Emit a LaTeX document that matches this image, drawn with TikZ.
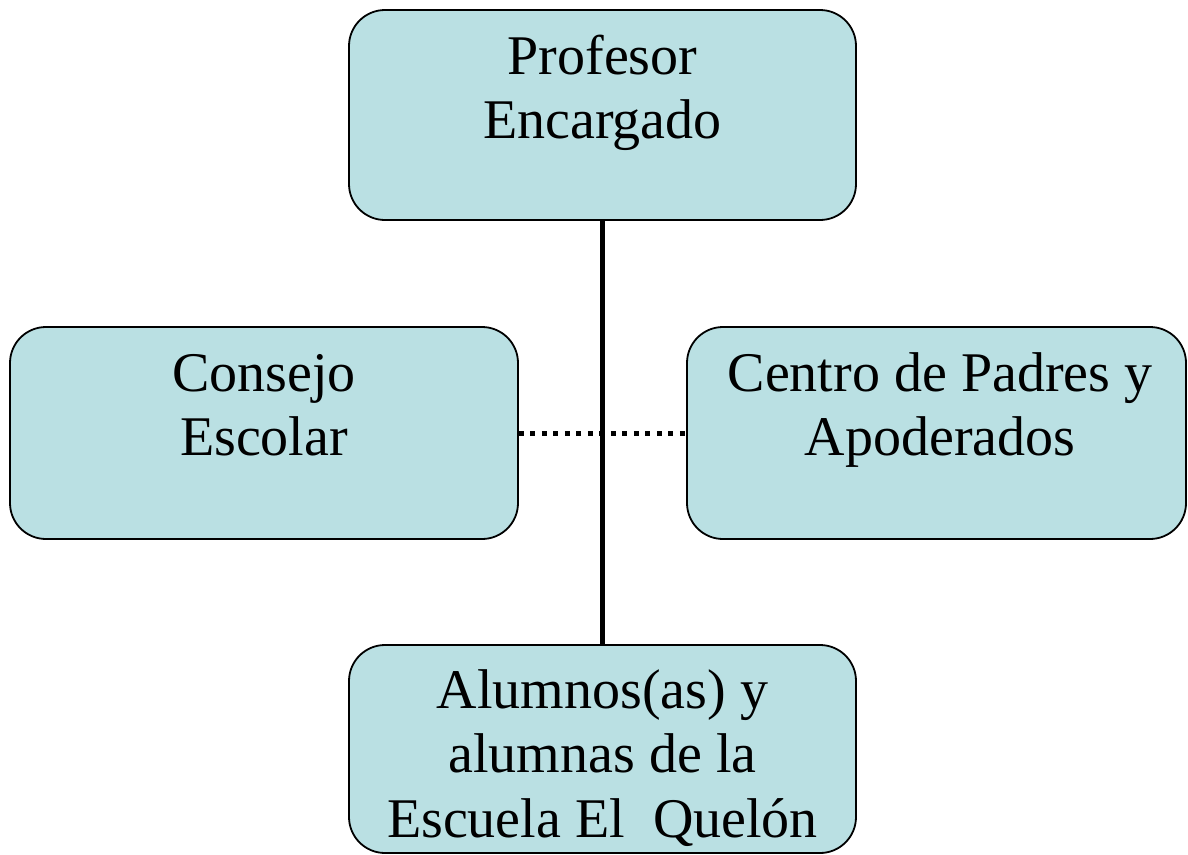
\documentclass[tikz,border=0pt]{standalone}
\usepackage{fontspec}
\setmainfont{Liberation Serif}
\definecolor{boxfill}{RGB}{186,224,227}
\begin{document}
\begin{tikzpicture}[x=1pt,y=-1pt,
  box/.style={draw=black,line width=1.8pt,fill=boxfill,rounded corners=36pt,inner sep=0pt},
  lbl/.style={anchor=base,align=center,inner sep=0pt,font=\fontsize{56}{64.5}\selectfont},
  link/.style={line width=5pt,draw=black},
  dotlink/.style={line width=5pt,draw=black,dash pattern=on 5pt off 6.5pt}]
\useasboundingbox (0,0) rectangle (1188,854);
\node[box,minimum width=507pt,minimum height=210pt] (top) at (602.5,115) {};
\node[box,minimum width=508pt,minimum height=212pt] (left) at (264,433) {};
\node[box,minimum width=499pt,minimum height=212pt] (right) at (936.5,433) {};
\node[box,minimum width=507pt,minimum height=208pt] (bottom) at (602.5,749) {};
\draw[dotlink] (left.east) -- (right.west);
\draw[link] (top.south) -- (bottom.north);
\node[lbl] (ttop) at (602.5,138.5) {Profesor\\Encargado};
\node[lbl] (tleft) at (264,455.5) {Consejo\\Escolar};
\node[lbl] (tright) at (940,455.5) {Centro de Padres y\\Apoderados};
\node[lbl] (tbottom) at (602.5,837) {Alumnos(as) y\\alumnas de la\\Escuela El\ \ Quelón};
\end{tikzpicture}
\end{document}
